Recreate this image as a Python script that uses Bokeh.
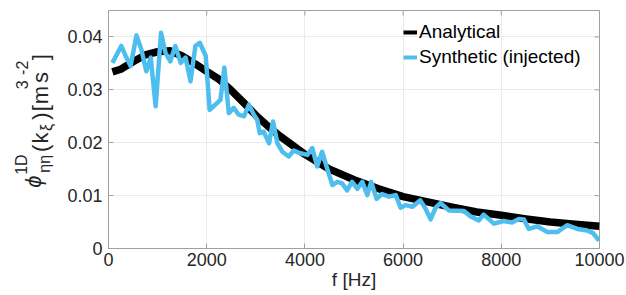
from math import pi
from bokeh.plotting import figure
from bokeh.layouts import row
from bokeh.models import (Range1d, FixedTicker, NumeralTickFormatter,
                          Legend, LegendItem)
from bokeh.core.properties import value
from bokeh.embed import file_html
from bokeh.resources import INLINE

# ---------------- data ----------------
f_analytical = [80, 250, 500, 750, 1000, 1250, 1500, 1750, 2000, 2250, 2500,
                2750, 3000, 3250, 3500, 3750, 4000, 4500, 5000, 5500, 6000,
                6500, 7000, 7500, 8000, 8500, 9000, 9500, 10000]
phi_analytical = [0.0334, 0.0339, 0.0353, 0.0366, 0.0372, 0.0374, 0.0364,
                  0.0350, 0.0335, 0.0320, 0.0299, 0.0276, 0.0252, 0.0231,
                  0.0212, 0.0195, 0.0178, 0.0150, 0.0130, 0.0113, 0.0098,
                  0.0088, 0.0078, 0.0069, 0.0063, 0.0056, 0.0050, 0.0046,
                  0.0042]

f_synthetic = [80, 260, 350, 450, 570, 670, 770, 860, 960, 1070,
               1160, 1260, 1360, 1470, 1570, 1670, 1770, 1860, 1980, 2060,
               2210, 2280, 2360, 2450, 2550, 2650, 2760, 2860, 2960, 3030,
               3080, 3160, 3270, 3350, 3440, 3540, 3670, 3770, 3910, 4050,
               4150, 4250, 4350, 4450, 4560, 4660, 4760, 4860, 4960, 5070,
               5170, 5270, 5350, 5460, 5570, 5710, 5850, 5950, 6050, 6190,
               6350, 6460, 6560, 6660, 6760, 6930, 7240, 7370, 7540, 7640,
               7850, 8050, 8220, 8360, 8460, 8560, 8730, 8940, 9140, 9340,
               9550, 9750, 9870, 9990]
phi_synthetic = [0.0351, 0.0383, 0.0364, 0.0345, 0.0403, 0.0376, 0.0335, 0.0361, 0.0269, 0.0408,
                 0.0370, 0.0354, 0.0383, 0.0351, 0.0361, 0.0316, 0.0383, 0.0389, 0.0364, 0.0262,
                 0.0275, 0.0281, 0.0342, 0.0256, 0.0266, 0.0253, 0.0250, 0.0272, 0.0253, 0.0243,
                 0.0218, 0.0221, 0.0199, 0.0240, 0.0199, 0.0183, 0.0174, 0.0185, 0.0180, 0.0177,
                 0.0190, 0.0155, 0.0183, 0.0152, 0.0120, 0.0126, 0.0123, 0.0110, 0.0126, 0.0113,
                 0.0126, 0.0101, 0.0126, 0.0094, 0.0103, 0.0098, 0.0101, 0.0077, 0.0082, 0.0079,
                 0.0091, 0.0075, 0.0055, 0.0077, 0.0086, 0.0072, 0.0071, 0.0061, 0.0053, 0.0064,
                 0.0047, 0.0052, 0.0049, 0.0056, 0.0055, 0.0037, 0.0042, 0.0031, 0.0031, 0.0044,
                 0.0037, 0.0034, 0.0029, 0.0015]

x_ticks = [0, 2000, 4000, 6000, 8000, 10000]
y_ticks = [0, 0.01, 0.02, 0.03, 0.04]
legend_labels = ["Analytical", "Synthetic (injected)"]
x_label = "f [Hz]"

# ---------------- layout ----------------
W, H = 626, 295
LABEL_W = 60                         # strip that holds the rotated y label
FL, FR, FT, FB = 108, 599, 10, 248   # frame edges on the page
X0, X1, Y0, Y1 = 0, 10000, 0, 0.045
FONT = "Liberation Sans"
AX_GRAY = "#a0a0a0"
TXT = "#262626"
BLUE = "#4DBEEE"

p = figure(width=W - LABEL_W, height=H, output_backend="svg", toolbar_location=None,
           x_range=Range1d(X0, X1), y_range=Range1d(Y0, Y1),
           min_border_left=FL - LABEL_W, min_border_right=W - FR,
           min_border_top=FT, min_border_bottom=H - FB)
p.background_fill_color = "white"
p.border_fill_color = "white"
p.outline_line_color = AX_GRAY
p.outline_line_width = 1

for ax in (p.xaxis[0], p.yaxis[0]):
    ax.axis_line_color = AX_GRAY
    ax.major_tick_line_color = AX_GRAY
    ax.major_tick_in = 5
    ax.major_tick_out = 0
    ax.minor_tick_line_color = None
    ax.major_label_text_font = FONT
    ax.major_label_text_font_size = "18px"
    ax.major_label_text_color = TXT

p.xaxis.ticker = FixedTicker(ticks=x_ticks)
p.yaxis.ticker = FixedTicker(ticks=y_ticks)
p.yaxis.formatter = NumeralTickFormatter(format="0.[00]")
p.xaxis.major_label_standoff = 4
p.yaxis.major_label_standoff = 6

p.xaxis.axis_label = x_label
p.xaxis.axis_label_text_font = FONT
p.xaxis.axis_label_text_font_size = "19px"
p.xaxis.axis_label_text_font_style = "normal"
p.xaxis.axis_label_text_color = TXT
p.xaxis.axis_label_standoff = 0

p.xgrid.ticker = FixedTicker(ticks=x_ticks)
p.ygrid.ticker = FixedTicker(ticks=y_ticks)
p.grid.grid_line_color = "#ebebeb"
p.grid.grid_line_width = 1

# inward tick marks on the top and right edges (box on), from the tick lists
tick_len_x = 5 / (FB - FT) * (Y1 - Y0)
tick_len_y = 5 / (FR - FL) * (X1 - X0)
p.segment(x0=x_ticks, y0=[Y1] * len(x_ticks), x1=x_ticks,
          y1=[Y1 - tick_len_x] * len(x_ticks), line_color=AX_GRAY, line_width=1)
p.segment(x0=[X1] * len(y_ticks), y0=y_ticks, x1=[X1 - tick_len_y] * len(y_ticks),
          y1=y_ticks, line_color=AX_GRAY, line_width=1)

# ---------------- data lines ----------------
r_an = p.line(f_analytical, phi_analytical, line_color="black", line_width=7.5,
              line_join="round")
r_syn = p.line(f_synthetic, phi_synthetic, line_color=BLUE, line_width=4.5,
               line_join="round")

# thinner legend bars, as in the reference (proxies hold no visible data)
nan = float("nan")
leg_an = p.line(x=[nan], y=[nan], line_color="black", line_width=4)
leg_syn = p.line(x=[nan], y=[nan], line_color=BLUE, line_width=4)

legend = Legend(items=[LegendItem(label=legend_labels[0], renderers=[leg_an]),
                       LegendItem(label=legend_labels[1], renderers=[leg_syn])],
                location=(403 - FL, FB - 68), padding=0, margin=0, spacing=3,
                glyph_width=14, glyph_height=22, label_height=22, label_standoff=2,
                border_line_color=None, background_fill_alpha=0,
                label_text_font=FONT, label_text_font_size="19px",
                label_text_color="black")
p.add_layout(legend)

# ---------------- y label strip (real text pieces, rotated) ----------------
yl = figure(width=LABEL_W, height=H, output_backend="svg", toolbar_location=None,
            x_range=Range1d(0, LABEL_W), y_range=Range1d(0, H),
            min_border=0, min_border_left=0, min_border_right=0,
            min_border_top=0, min_border_bottom=0)
yl.axis.visible = False
yl.grid.visible = False
yl.outline_line_color = None
yl.background_fill_color = "white"
yl.border_fill_color = "white"

# (text, centre y on page, baseline x on page, font size px, style)
MAIN, SUB = 22, 16
BASE, SUP_BASE, SUB_BASE = 40, 21, 44
ylabel_pieces = [
    ("\u03d5", 212, 33, MAIN, "italic"),
    ("1D", 191, SUP_BASE, SUB, "normal"),
    ("\u03b7\u03b7", 190, SUB_BASE, SUB, "normal"),
    ("(", 171, BASE, MAIN, "normal"),
    ("k", 158, BASE, MAIN, "normal"),
    ("\u03be", 145, SUB_BASE + 2, SUB, "normal"),
    (")", 131, BASE, MAIN, "normal"),
    ("[", 121, BASE, MAIN, "normal"),
    ("m", 105, BASE, MAIN, "normal"),
    ("3", 92, SUP_BASE, SUB, "normal"),
    ("s", 83, BASE, MAIN, "normal"),
    ("-2", 71, SUP_BASE, SUB, "normal"),
    ("]", 58, BASE, MAIN, "normal"),
]
for txt, cy, bx, fs, style in ylabel_pieces:
    yl.text(x=[bx], y=[H - cy], text=[txt], angle=pi / 2,
            text_align="center", text_baseline="alphabetic",
            text_font=value(FONT), text_font_size=f"{fs}px",
            text_font_style=style, text_color=TXT)

layout = row(yl, p, spacing=0)
open("out.html", "w").write(file_html(layout, INLINE))
